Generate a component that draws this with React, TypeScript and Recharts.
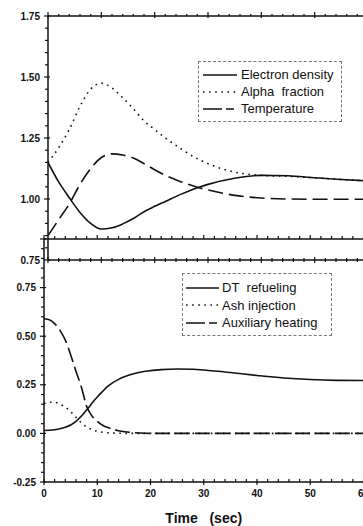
import React from 'react';
import { LineChart, Line, XAxis, YAxis, Legend } from 'recharts';

// ---------- data: upper panel ----------
const topTime = [0, 2, 4, 6, 8, 10, 12, 14, 16, 18, 20, 22, 25, 28, 30, 35, 40, 45, 50, 55, 60];
const electronDensity = [1.15, 1.07, 1.005, 0.945, 0.9, 0.877, 0.882, 0.898, 0.92, 0.948, 0.97, 0.99, 1.02, 1.046, 1.06, 1.085, 1.097, 1.095, 1.087, 1.08, 1.074];
const alphaFraction = [1.15, 1.21, 1.285, 1.38, 1.45, 1.475, 1.455, 1.415, 1.37, 1.32, 1.285, 1.25, 1.205, 1.165, 1.145, 1.11, 1.097, 1.093, 1.087, 1.08, 1.074];
const temperature = [0.85, 0.915, 0.98, 1.06, 1.125, 1.17, 1.185, 1.18, 1.168, 1.145, 1.12, 1.097, 1.07, 1.048, 1.037, 1.015, 1.004, 1.0, 0.999, 0.999, 0.999];

// ---------- data: lower panel ----------
const bottomTime = [0, 1, 2, 3, 4, 5, 6, 7, 8, 9, 10, 11, 12, 14, 16, 18, 20, 22, 25, 28, 30, 35, 40, 45, 50, 55, 60];
const dtRefueling = [0.015, 0.016, 0.019, 0.024, 0.032, 0.043, 0.062, 0.088, 0.12, 0.155, 0.187, 0.216, 0.243, 0.278, 0.3, 0.315, 0.323, 0.328, 0.331, 0.33, 0.326, 0.313, 0.298, 0.285, 0.277, 0.273, 0.272];
const ashInjection = [0.153, 0.16, 0.16, 0.15, 0.135, 0.112, 0.083, 0.055, 0.033, 0.02, 0.011, 0.006, 0.003, 0.001, 0, 0, 0, 0, 0, 0, 0, 0, 0, 0, 0, 0, 0];
const auxHeating = [0.59, 0.585, 0.565, 0.53, 0.48, 0.405, 0.32, 0.24, 0.14, 0.09, 0.062, 0.042, 0.03, 0.014, 0.006, 0.002, 0, 0, 0, 0, 0, 0, 0, 0, 0, 0, 0];

// ---------- ticks ----------
const xTicks = [0, 2, 4, 6, 8, 10, 12, 14, 16, 18, 20, 22, 24, 26, 28, 30, 32, 34, 36, 38, 40, 42, 44, 46, 48, 50, 52, 54, 56, 58, 60];
const xMajor = [0, 10, 20, 30, 40, 50, 60];
const topYTicks = [0.75, 0.8, 0.85, 0.9, 0.95, 1.0, 1.05, 1.1, 1.15, 1.2, 1.25, 1.3, 1.35, 1.4, 1.45, 1.5, 1.55, 1.6, 1.65, 1.7, 1.75];
const topYMajor = [0.75, 1.0, 1.25, 1.5, 1.75];
const bottomYTicks = [-0.25, -0.2, -0.15, -0.1, -0.05, 0, 0.05, 0.1, 0.15, 0.2, 0.25, 0.3, 0.35, 0.4, 0.45, 0.5, 0.55, 0.6, 0.65, 0.7, 0.75, 0.8, 0.85, 0.9, 0.95, 1.0];
const bottomYMajor = [-0.25, 0, 0.25, 0.5, 0.75, 1.0];
const bottomYLabels = [-0.25, 0, 0.25, 0.5, 0.75];

const topLegend = [
  { label: 'Electron density', dash: undefined as string | undefined },
  { label: 'Alpha\u00a0\u00a0fraction', dash: '1.6 4.5' },
  { label: 'Temperature', dash: '19 4 8 40' },
];
const bottomLegend = [
  { label: 'DT\u00a0\u00a0refueling', dash: undefined as string | undefined },
  { label: 'Ash injection', dash: '1.6 4.5' },
  { label: 'Auxiliary heating', dash: '19 4 8 40' },
];

const topData = topTime.map((t, i) => ({ t, ne: electronDensity[i], alpha: alphaFraction[i], temp: temperature[i] }));
const bottomData = bottomTime.map((t, i) => ({ t, dt: dtRefueling[i], ash: ashInjection[i], aux: auxHeating[i] }));

const FONT = '"Liberation Sans", Arial, Helvetica, sans-serif';
const INK = '#111';

type TickOpts = {
  side: 'left' | 'top' | 'bottom';
  majors: number[];
  labels?: number[];
  majorOut: number;
  majorIn: number;
  minorOut: number;
  minorIn: number;
  decimals: number;
};

const makeTick = (o: TickOpts) => (props: any) => {
  const { x, y, payload } = props;
  const v = payload.value as number;
  const near = (arr: number[]) => arr.some((m) => Math.abs(m - v) < 1e-6);
  const major = near(o.majors);
  const out = major ? o.majorOut : o.minorOut;
  const inn = major ? o.majorIn : o.minorIn;
  const show = o.labels ? near(o.labels) : false;
  const txt = v.toFixed(o.decimals);
  const textStyle = { fontFamily: FONT, fontSize: 10, fontWeight: 700, fill: INK } as const;
  if (o.side === 'left') {
    return (
      <g>
        <path d={`M${x + inn},${y}H${x - out}`} stroke={INK} strokeWidth={1.2} fill="none" />
        {show && (
          <text x={x - 8} y={y} dy="0.36em" textAnchor="end" style={textStyle}>
            {txt}
          </text>
        )}
      </g>
    );
  }
  if (o.side === 'top') {
    return (
      <g>
        <path d={`M${x},${y + inn}V${y - out}`} stroke={INK} strokeWidth={1.2} fill="none" />
      </g>
    );
  }
  return (
    <g>
      <path d={`M${x},${y - inn}V${y + out}`} stroke={INK} strokeWidth={1.2} fill="none" />
      {show && (
        <text x={x} y={y + 15} textAnchor="middle" style={textStyle}>
          {txt}
        </text>
      )}
    </g>
  );
};

const LegendBox = ({
  items,
  width,
  height,
  padTop,
  padLeft,
  rowH,
  sampleW,
  gap,
}: {
  items: { label: string; dash?: string }[];
  width: number;
  height: number;
  padTop: number;
  padLeft: number;
  rowH: number;
  sampleW: number;
  gap: number;
}) => (
  <div
    style={{
      boxSizing: 'border-box',
      width,
      height,
      border: '1px dashed #777',
      paddingTop: padTop,
      paddingLeft: padLeft,
      fontFamily: FONT,
      fontSize: 13,
      color: INK,
      lineHeight: `${rowH}px`,
    }}
  >
    {items.map((it) => (
      <div key={it.label} style={{ display: 'flex', alignItems: 'center', height: rowH, whiteSpace: 'nowrap' }}>
        <svg width={sampleW} height={6} style={{ marginRight: gap, flex: 'none' }}>
          <line x1={0} y1={3} x2={sampleW} y2={3} stroke={INK} strokeWidth={1.6} strokeDasharray={it.dash} />
        </svg>
        <span>{it.label}</span>
      </div>
    ))}
  </div>
);

const axisLine = { stroke: INK, strokeWidth: 1.5 };

export default function App() {
  return (
    <div style={{ position: 'absolute', left: 0, top: 0, width: 363, height: 526, overflow: 'hidden', background: '#fff' }}>
      <div style={{ position: 'absolute', left: 0, top: 0 }}>
        <LineChart width={380} height={272} data={topData} margin={{ top: 15, right: 12, bottom: 11, left: 0 }}>
          <XAxis
            xAxisId="b"
            dataKey="t"
            type="number"
            domain={[0, 60]}
            ticks={xTicks}
            interval={0}
            height={1}
            tickSize={0}
            tickMargin={0}
            tickLine={false}
            axisLine={axisLine}
            tick={makeTick({ side: 'bottom', majors: xMajor, majorOut: 3, majorIn: 3, minorOut: 2, minorIn: 2, decimals: 0 })}
            allowDataOverflow
          />
          <XAxis
            xAxisId="t"
            orientation="top"
            dataKey="t"
            type="number"
            domain={[0, 60]}
            ticks={xTicks}
            interval={0}
            height={1}
            tickSize={0}
            tickMargin={0}
            tickLine={false}
            axisLine={axisLine}
            tick={makeTick({ side: 'top', majors: xMajor, majorOut: 4, majorIn: 2, minorOut: 2, minorIn: 0, decimals: 0 })}
          />
          <YAxis
            yAxisId="l"
            type="number"
            domain={[0.75, 1.75]}
            ticks={topYTicks}
            interval={0}
            width={48}
            tickSize={0}
            tickMargin={0}
            tickLine={false}
            axisLine={axisLine}
            tick={makeTick({ side: 'left', majors: topYMajor, labels: topYMajor, majorOut: 4, majorIn: 2, minorOut: 3, minorIn: 0, decimals: 2 })}
            allowDataOverflow
          />
          <Legend
            layout="vertical"
            align="center"
            verticalAlign="middle"
            wrapperStyle={{ left: 198, top: 61, width: 144, height: 61 }}
            content={() => (
              <LegendBox items={topLegend} width={144} height={61} padTop={4} padLeft={4} rowH={17} sampleW={34} gap={4} />
            )}
          />
          <Line xAxisId="b" yAxisId="l" dataKey="ne" name="Electron density" type="monotone" stroke={INK} strokeWidth={1.6} dot={false} isAnimationActive={false} />
          <Line xAxisId="b" yAxisId="l" dataKey="alpha" name="Alpha fraction" type="monotone" stroke={INK} strokeWidth={1.6} strokeDasharray="1.6 4.5" dot={false} isAnimationActive={false} />
          <Line xAxisId="b" yAxisId="l" dataKey="temp" name="Temperature" type="monotone" stroke={INK} strokeWidth={1.6} strokeDasharray="15 6" dot={false} isAnimationActive={false} />
        </LineChart>
      </div>
      <div style={{ position: 'absolute', left: 0, top: 0 }}>
        <LineChart width={380} height={526} data={bottomData} margin={{ top: 238, right: 16.5, bottom: 0, left: 0 }}>
          <XAxis
            xAxisId="b"
            dataKey="t"
            type="number"
            domain={[0, 60]}
            ticks={xTicks}
            interval={0}
            height={44}
            tickSize={0}
            tickMargin={0}
            tickLine={false}
            axisLine={axisLine}
            tick={makeTick({ side: 'bottom', majors: xMajor, labels: xMajor, majorOut: 3, majorIn: 3, minorOut: 0, minorIn: 3, decimals: 0 })}
            label={{ value: 'Time\u00a0\u00a0\u00a0(sec)', position: 'insideBottom', offset: 3, style: { fontFamily: FONT, fontSize: 14, fontWeight: 700, fill: INK } }}
            allowDataOverflow
          />
          <XAxis
            xAxisId="t"
            orientation="top"
            dataKey="t"
            type="number"
            domain={[0, 60]}
            ticks={xTicks}
            interval={0}
            height={1}
            tickSize={0}
            tickMargin={0}
            tickLine={false}
            axisLine={axisLine}
            tick={makeTick({ side: 'top', majors: xMajor, majorOut: 4, majorIn: 0, minorOut: 3, minorIn: 0, decimals: 0 })}
          />
          <YAxis
            yAxisId="l"
            type="number"
            domain={[-0.25, 1.0]}
            ticks={bottomYTicks}
            interval={0}
            width={44}
            tickSize={0}
            tickMargin={0}
            tickLine={false}
            axisLine={axisLine}
            tick={makeTick({ side: 'left', majors: bottomYMajor, labels: bottomYLabels, majorOut: 4, majorIn: 2, minorOut: 3, minorIn: 0, decimals: 2 })}
            allowDataOverflow
          />
          <Legend
            layout="vertical"
            align="center"
            verticalAlign="middle"
            wrapperStyle={{ left: 182, top: 273, width: 150, height: 63 }}
            content={() => (
              <LegendBox items={bottomLegend} width={150} height={63} padTop={5} padLeft={3} rowH={17.5} sampleW={33} gap={3} />
            )}
          />
          <Line xAxisId="b" yAxisId="l" dataKey="dt" name="DT refueling" type="monotone" stroke={INK} strokeWidth={1.6} dot={false} isAnimationActive={false} />
          <Line xAxisId="b" yAxisId="l" dataKey="ash" name="Ash injection" type="monotone" stroke={INK} strokeWidth={1.6} strokeDasharray="1.6 4.5" dot={false} isAnimationActive={false} />
          <Line xAxisId="b" yAxisId="l" dataKey="aux" name="Auxiliary heating" type="monotone" stroke={INK} strokeWidth={1.6} strokeDasharray="15 5" dot={false} isAnimationActive={false} />
        </LineChart>
      </div>
    </div>
  );
}
